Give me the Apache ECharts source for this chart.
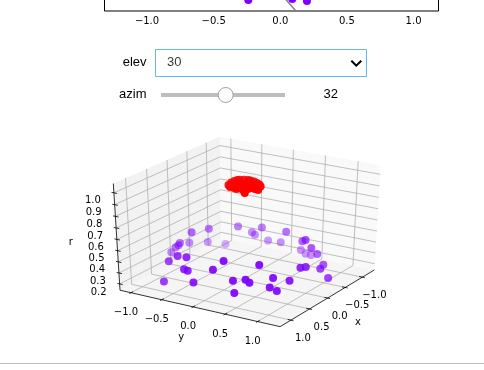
<!DOCTYPE html>
<html>
<head>
<meta charset="utf-8">
<title>elev azim</title>
<script src="https://cdn.jsdelivr.net/npm/echarts@6/dist/echarts.min.js"></script>
<style>
    html, body { margin: 0; padding: 0; background: #fff; }
    #chart { width: 484px; height: 370px; }
</style>
</head>
<body>
<div id="chart"></div>
<script>
// outer ring, class 0
const ringX = [-0.08, -0.42, -0.73, -0.91, 0.01, -0.31, -0.64, -0.94, 0.02, -0.00, -0.02, 0.72, 0.81, 0.70, 0.82, 0.94, 0.96, 0.93, 1.02, 1.09, 0.93, 0.84, 0.84, 1.03, -0.96, -0.88, -0.90, -1.09, -1.12, -0.83, -0.61, -1.19, -1.24, -0.69, -1.20, -0.79, -0.57, -0.32, -0.33, 0.11, 0.00, 0.40, 0.62, 0.58, 0.70, 0.65]
const ringY = [-0.87, -0.80, -0.51, -0.39, -1.01, -1.06, -0.96, -0.85, -1.03, -1.09, -1.18, -0.59, -0.39, -0.75, 0.20, -0.35, -0.28, 0.10, -0.63, -0.11, 0.41, 0.55, 0.61, 0.49, -0.37, -0.21, 0.17, -0.23, -0.04, 0.47, 0.64, 0.25, 0.30, 0.69, 0.41, 0.73, 0.95, 1.04, 1.16, 0.97, 0.99, 0.97, 0.63, 0.82, 0.84, 0.92]
const ringR = [0.46, 0.44, 0.44, 0.37, 0.36, 0.30, 0.26, 0.20, 0.34, 0.31, 0.25, 0.42, 0.45, 0.35, 0.49, 0.37, 0.37, 0.42, 0.24, 0.31, 0.36, 0.37, 0.35, 0.28, 0.34, 0.44, 0.44, 0.28, 0.28, 0.40, 0.47, 0.23, 0.19, 0.39, 0.20, 0.32, 0.29, 0.31, 0.24, 0.39, 0.38, 0.33, 0.47, 0.37, 0.31, 0.28]
// inner blob, class 1
const blobX = [0.04, -0.08, -0.16, -0.22, -0.25, -0.28, -0.30, -0.30, -0.29, -0.25, -0.21, -0.14, 0.01, -0.00, -0.02, 0.05, 0.22, 0.12, 0.07, 0.13, 0.11, 0.06, -0.05, -0.08, -0.11, -0.14, -0.17, -0.16, 0.10, -0.01, -0.13, -0.02]
const blobY = [-0.19, -0.22, -0.22, -0.21, -0.19, -0.14, -0.09, -0.05, 0.01, 0.08, 0.14, 0.20, 0.25, 0.19, 0.14, 0.12, 0.17, 0.08, 0.00, -0.01, -0.06, -0.14, -0.14, -0.10, -0.05, -0.01, 0.04, 0.10, -0.13, 0.05, 0.15, -0.02]
const blobR = [0.97, 0.97, 0.97, 0.97, 0.97, 0.97, 0.97, 0.97, 0.97, 0.97, 0.97, 0.97, 0.97, 0.97, 0.97, 0.97, 0.97, 0.97, 0.97, 0.97, 0.97, 0.97, 0.97, 0.97, 0.97, 0.97, 0.97, 0.97, 0.97, 0.97, 0.97, 0.97]

const xTicks = [-1, -0.5, 0, 0.5, 1]
const yTicks = [-1, -0.5, 0, 0.5, 1]
const rTicks = [0.2, 0.3, 0.4, 0.5, 0.6, 0.7, 0.8, 0.9, 1]
const topTicks = [-1, -0.5, 0, 0.5, 1]

// the bit of the upper plot still in view
const topDotX = [-0.24, 0.09, 0.2]
const topDotY = [-1.175, -1.164, -1.186]
const topLineX = [0, 0.117]
const topLineY = [-1.097, -1.3]

const xLim = [-1.36, 1.285]
const yLim = [-1.18, 1.34]
const rLim = [0.142, 1.078]
const elev = 30
const azim = 32
const dist = 10

const el = elev * Math.PI / 180
const az = azim * Math.PI / 180
const n = [Math.cos(el) * Math.cos(az), Math.cos(el) * Math.sin(az), Math.sin(el)]
const u = [-Math.sin(az), Math.cos(az), 0]
const v = [n[1] * u[2] - n[2] * u[1], n[2] * u[0] - n[0] * u[2], n[0] * u[1] - n[1] * u[0]]

// same camera as mplot3d: returns view x, view y, depth
function project(x, y, r) {
    const d = [
        (x - xLim[0]) / (xLim[1] - xLim[0]) - 0.5,
        (y - yLim[0]) / (yLim[1] - yLim[0]) - 0.5,
        (r - rLim[0]) / (rLim[1] - rLim[0]) - 0.5
    ]
    const dot = a => a[0] * d[0] + a[1] * d[1] + a[2] * d[2]
    const z = dot(n)
    return [dot(u) / (dist - z), dot(v) / (dist - z), z]
}

const x0 = xLim[0], x1 = xLim[1], y0 = yLim[0], y1 = yLim[1], r0 = rLim[0], r1 = rLim[1]
const xSpan = x1 - x0, ySpan = y1 - y0

const panes = [
    { fill: '#f2f2f2', pts: [[x0, y0, r0], [x1, y0, r0], [x1, y0, r1], [x0, y0, r1]] },
    { fill: '#f9f9f9', pts: [[x0, y0, r0], [x0, y1, r0], [x0, y1, r1], [x0, y0, r1]] },
    { fill: '#f5f5f5', pts: [[x0, y0, r0], [x1, y0, r0], [x1, y1, r0], [x0, y1, r0]] }
]

const gridLines = []
xTicks.forEach(t => gridLines.push([[t, y1, r0], [t, y0, r0], [t, y0, r1]]))
yTicks.forEach(t => gridLines.push([[x1, t, r0], [x0, t, r0], [x0, t, r1]]))
rTicks.forEach(t => gridLines.push([[x1, y0, t], [x0, y0, t], [x0, y1, t]]))

const axisLines = [
    [[x0, y1, r0], [x1, y1, r0]],
    [[x1, y0, r0], [x1, y1, r0]],
    [[x1, y0, r0], [x1, y0, r1]]
]
xTicks.forEach(t => axisLines.push([[t, y1 - 0.02 * ySpan, r0], [t, y1 + 0.015 * ySpan, r0]]))
yTicks.forEach(t => axisLines.push([[x1 - 0.02 * xSpan, t, r0], [x1 + 0.015 * xSpan, t, r0]]))
rTicks.forEach(t => axisLines.push([[x1, y0 + 0.02 * ySpan, t], [x1, y0 - 0.015 * ySpan, t]]))

const fmt = val => val.toFixed(1).replace('-', '\u2212')

const labels3d = []
xTicks.forEach(t => labels3d.push({ at: [t, y1, r0], text: fmt(t), dx: 12, dy: 18 }))
yTicks.forEach(t => labels3d.push({ at: [x1, t, r0], text: fmt(t), dx: -5, dy: 20 }))
rTicks.forEach(t => labels3d.push({ at: [x1, y0, t], text: fmt(t), dx: -21, dy: 8 }))
labels3d.push({ at: [-0.04, y1, r0], text: 'x', dx: 29, dy: 25 })
labels3d.push({ at: [x1, 0.08, r0], text: 'y', dx: -17, dy: 29 })
labels3d.push({ at: [x1, y0, 0.61], text: 'r', dx: -46, dy: 4 })

const points = []
ringX.forEach((x, i) => points.push({ p: project(x, ringY[i], ringR[i]), color: '#8000ff' }))
blobX.forEach((x, i) => points.push({ p: project(x, blobY[i], blobR[i]), color: '#ff0000' }))
const depths = points.map(d => d.p[2])
const nearest = Math.max(...depths)
const farthest = Math.min(...depths)
points.sort((a, b) => a.p[2] - b.p[2])
const scatterData = points.map(d => ({
    value: [d.p[0], d.p[1]],
    itemStyle: {
        color: d.color,
        opacity: 1 - 0.7 * (nearest - d.p[2]) / (nearest - farthest)
    }
}))

function coordOf(api, pt) {
    const s = project(pt[0], pt[1], pt[2])
    return api.coord([s[0], s[1]])
}

// custom series on the 3d view grid
function viewSeries(items, z, renderItem) {
    return {
        type: 'custom',
        coordinateSystem: 'cartesian2d',
        xAxisIndex: 1,
        yAxisIndex: 1,
        z: z,
        silent: true,
        clip: false,
        data: items.map((_, i) => [i, i]),
        encode: { x: 0, y: 1 },
        renderItem: renderItem
    }
}

function lineSeries(items, z, color, width) {
    return viewSeries(items, z, (params, api) => ({
        type: 'polyline',
        shape: { points: items[params.dataIndex].map(pt => coordOf(api, pt)) },
        style: { stroke: color, lineWidth: width, fill: null }
    }))
}

const option = {
    animation: false,
    backgroundColor: '#fff',
    textStyle: { fontFamily: 'DejaVu Sans' },
    grid: [
        {
            left: 104.5,
            top: -209,
            width: 334,
            height: 220,
            outerBoundsMode: 'none',
            show: true,
            borderColor: '#000',
            borderWidth: 1
        },
        { left: 69.2, top: 118.6, width: 350, height: 225.7, outerBoundsMode: 'none' }
    ],
    xAxis: [
        {
            type: 'value',
            gridIndex: 0,
            min: -1.319,
            max: 1.187,
            axisLine: { show: false },
            splitLine: { show: false },
            axisTick: { length: 3.5, lineStyle: { color: '#000', width: 1 }, customValues: topTicks },
            axisLabel: {
                color: '#000',
                fontSize: 10,
                fontFamily: 'DejaVu Sans',
                margin: 5,
                customValues: topTicks,
                formatter: fmt
            }
        },
        { type: 'value', gridIndex: 1, min: -0.095, max: 0.09, show: false }
    ],
    yAxis: [
        { type: 'value', gridIndex: 0, min: -1.3, max: 1.2, show: false },
        { type: 'value', gridIndex: 1, min: -0.095, max: 0.09, show: false }
    ],
    series: [
        {
            type: 'line',
            xAxisIndex: 0,
            yAxisIndex: 0,
            showSymbol: false,
            silent: true,
            z: 3,
            lineStyle: { color: '#808080', width: 1.5 },
            data: topLineX.map((x, i) => [x, topLineY[i]])
        },
        {
            type: 'scatter',
            xAxisIndex: 0,
            yAxisIndex: 0,
            symbolSize: 8,
            silent: true,
            z: 4,
            itemStyle: { color: '#8000ff', opacity: 1 },
            data: topDotX.map((x, i) => [x, topDotY[i]])
        },
        viewSeries(panes, 1, (params, api) => ({
            type: 'polygon',
            shape: { points: panes[params.dataIndex].pts.map(pt => coordOf(api, pt)) },
            style: { fill: panes[params.dataIndex].fill }
        })),
        lineSeries(gridLines, 2, '#b0b0b0', 0.8),
        lineSeries(axisLines, 3, '#000', 0.8),
        viewSeries(labels3d, 3, (params, api) => {
            const item = labels3d[params.dataIndex]
            const c = coordOf(api, item.at)
            return {
                type: 'text',
                x: c[0] + item.dx,
                y: c[1] + item.dy,
                style: {
                    text: item.text,
                    fill: '#000',
                    font: '10px "DejaVu Sans"',
                    align: 'center',
                    verticalAlign: 'middle'
                }
            }
        }),
        {
            type: 'scatter',
            xAxisIndex: 1,
            yAxisIndex: 1,
            symbolSize: 8,
            silent: true,
            z: 4,
            data: scatterData
        }
    ],
    graphic: [
        {
            type: 'text',
            x: 146.5,
            y: 62.5,
            style: { text: 'elev', fill: '#000', font: '13px "Liberation Sans"', align: 'right', verticalAlign: 'middle' }
        },
        {
            type: 'rect',
            shape: { x: 155.5, y: 49.5, width: 211, height: 27 },
            style: { fill: '#fff', stroke: '#64b5f6', lineWidth: 1 }
        },
        {
            type: 'text',
            x: 167,
            y: 62.5,
            style: { text: '30', fill: 'rgba(0,0,0,0.8)', font: '13px "Liberation Sans"', align: 'left', verticalAlign: 'middle' }
        },
        {
            type: 'polyline',
            shape: { points: [[351.3, 60.7], [356.3, 65.7], [361.3, 60.7]] },
            style: { stroke: '#000', lineWidth: 2, fill: null }
        },
        {
            type: 'text',
            x: 146.5,
            y: 94.5,
            style: { text: 'azim', fill: '#000', font: '13px "Liberation Sans"', align: 'right', verticalAlign: 'middle' }
        },
        {
            type: 'rect',
            shape: { x: 161, y: 93, width: 124, height: 4 },
            style: { fill: '#bdbdbd' }
        },
        {
            type: 'circle',
            shape: { cx: 225.7, cy: 95, r: 7.5 },
            style: { fill: '#fff', stroke: '#9e9e9e', lineWidth: 1 }
        },
        {
            type: 'text',
            x: 330.7,
            y: 94.5,
            style: { text: '32', fill: '#000', font: '13px "Liberation Sans"', align: 'center', verticalAlign: 'middle' }
        },
        {
            type: 'rect',
            shape: { x: 0, y: 363, width: 484, height: 1 },
            style: { fill: '#bdbdbd' }
        }
    ]
}

const myChart = echarts.init(document.getElementById('chart'))
myChart.setOption(option)
</script>
</body>
</html>
